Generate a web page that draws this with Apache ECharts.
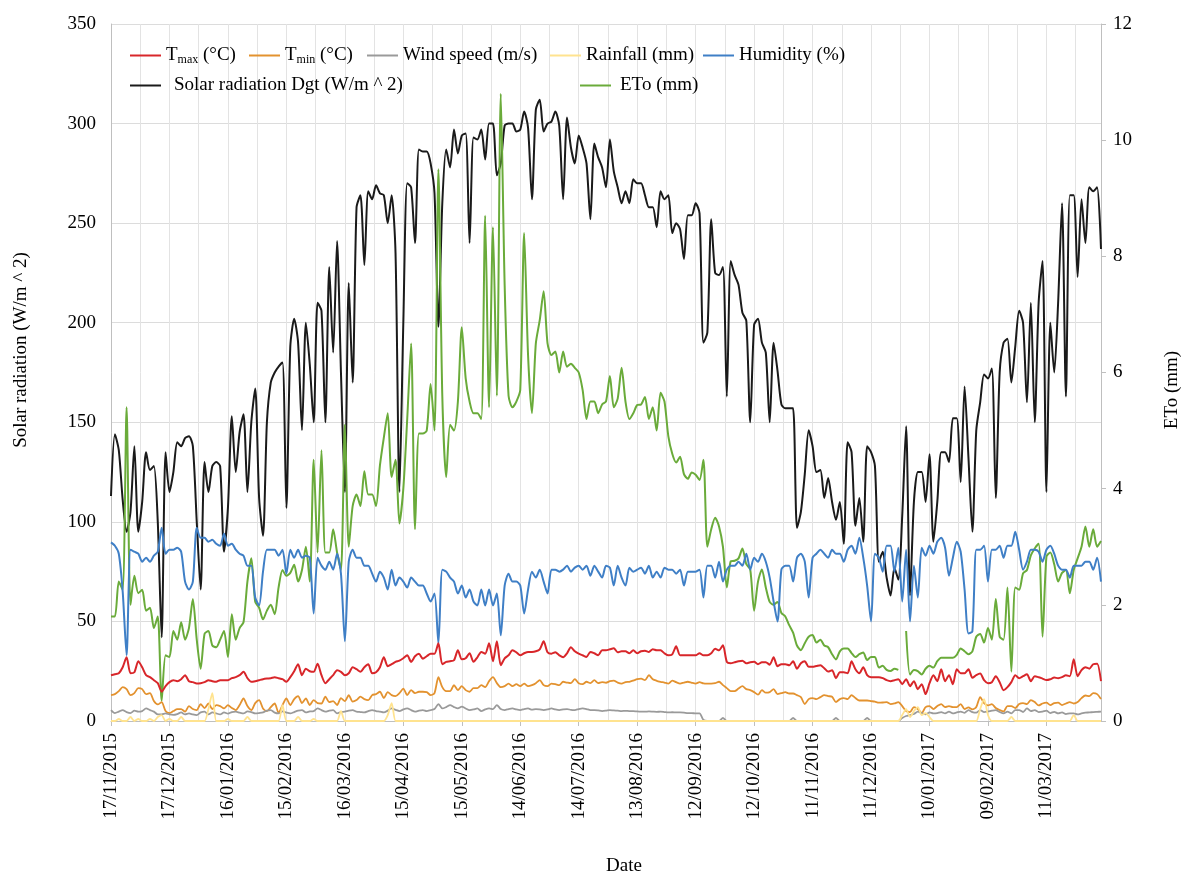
<!DOCTYPE html>
<html>
<head>
<meta charset="utf-8">
<script src="https://cdn.jsdelivr.net/npm/echarts@6/dist/echarts.min.js"></script>
<style>
html,body{margin:0;padding:0;background:#fff;}
#chart{width:1183px;height:873px;}
</style>
</head>
<body>
<div id="chart"></div>
<script>
// Tick labels of the date axis (one every 30 days from 17/11/2015)
const dateLabels = ['17/11/2015','17/12/2015','16/01/2016','15/02/2016','16/03/2016','15/04/2016','15/05/2016','14/06/2016','14/07/2016','13/08/2016','12/09/2016','12/10/2016','11/11/2016','11/12/2016','10/01/2017','09/02/2017','11/03/2017'];
// each series value is one reading every 2 days starting at 17/11/2015
const DAY_STEP = 2;
const LAST_DAY = 508;

const solarRadiation = [
113,144,136,111,95,105,138,95,110,135,
126,128,100,42,135,115,125,140,138,142,
143,138,100,66,130,115,128,130,128,85,
107,153,125,145,154,115,150,167,112,93,
150,170,175,178,180,107,188,202,190,146,
200,179,
150,210,206,150,228,185,241,175,115,220,
170,258,264,229,266,262,269,265,264,250,
264,235,115,200,270,268,240,287,286,286,
280,265,198,260,287,278,297,285,294,295,
240,293,292,297,282,300,300,274,280,299,
300,
300,296,297,306,298,262,307,312,296,300,
301,306,299,262,303,288,280,294,288,280,
252,290,283,278,268,292,276,268,260,266,
260,272,270,270,264,258,258,248,266,262,
264,245,250,247,232,254,254,260,255,190,
195,252,
225,224,228,163,231,224,219,205,201,150,
199,202,190,185,150,190,176,159,157,157,
157,97,105,124,146,138,125,126,112,122,
110,101,110,89,140,135,98,112,90,138,
135,128,80,85,72,63,77,71,103,148,
63,
110,125,125,110,134,90,110,135,135,130,
152,152,120,168,132,95,146,160,174,172,
177,112,175,190,192,170,188,206,200,160,
210,150,210,231,115,200,175,210,260,163,
264,264,223,262,240,268,266,268,237
];

const eto = [
1.8,1.8,2.4,2.26,5.4,2.0,2.5,2.2,2.26,1.9,
1.95,1.6,1.8,0.35,1.13,1.1,1.55,1.4,1.7,1.4,
1.6,2.1,1.4,0.9,1.5,1.55,1.3,1.27,1.4,1.55,
1.1,1.84,1.4,1.6,1.7,2.4,2.8,2.05,1.95,1.75,
1.9,2.0,1.84,2.3,2.6,2.5,2.55,2.69,2.4,2.6,
3.0,2.4,
4.5,2.9,4.66,2.9,2.9,3.3,2.9,2.6,5.1,3.0,
3.7,3.9,3.7,4.3,3.9,3.9,3.7,4.4,4.88,5.3,
4.2,4.5,3.4,4.0,5.2,6.5,3.3,4.95,4.95,5.0,
5.8,5.0,9.5,5.6,4.2,5.1,5.0,5.5,6.78,5.9,
5.5,5.3,5.3,5.2,8.7,5.4,8.5,5.6,10.8,7.5,
5.6,5.4,
5.5,5.7,8.4,6.3,5.3,6.5,6.9,7.4,6.5,6.3,
6.36,6.0,6.36,6.1,6.15,6.08,6.0,5.7,5.2,5.5,
5.5,5.3,5.45,5.5,5.94,5.4,5.55,6.08,5.5,5.2,
5.3,5.44,5.45,5.58,5.2,5.4,5.0,5.65,5.5,4.9,
4.6,4.45,4.55,4.25,4.17,4.28,4.24,4.15,4.5,3.0,
3.3,
3.5,3.35,3.0,2.3,2.75,2.76,2.8,2.97,2.7,2.61,
1.9,2.4,2.61,2.3,2.05,2.0,2.05,1.86,1.8,1.65,
1.52,1.3,1.22,1.34,1.45,1.48,1.35,1.4,1.3,1.27,
1.15,1.06,1.2,1.25,1.25,1.17,1.1,1.15,1.18,1.05,
1.1,1.1,0.92,0.95,0.88,0.86,0.9,0.88,null,
1.55,0.8,0.88,0.86,0.8,0.9,0.95,0.92,1.03,1.09,
1.09,1.09,1.09,1.14,1.25,1.2,1.15,1.2,1.45,1.5,
1.35,1.6,1.4,2.1,1.45,1.4,2.3,0.85,2.3,2.26,
2.54,2.6,2.85,2.97,3.05,1.45,2.83,2.9,2.7,2.4,
2.55,2.6,2.2,2.6,2.8,3.0,3.35,3.0,3.3,3.0,
3.1
];

const humidity = [
89.7,88,84,65,33,86,85,84,80,82,
80,83,85,97,84,86,86,87,85,70,
66,70,97,92,92,90,91,89,88,94,
88,89,86,84,83,78,78,62,58,75,
86,86,86,83,86,74,86,82,86,82,
83,82,
54,82,78,76,80,76,84,74,40,80,
86,82,82,78,78,74,70,75,72,66,
76,68,72,70,67,72,70,68,68,64,
60,64,39,76,75,72,70,64,68,62,
66,60,58,66,58,66,58,64,43,68,
74,70,
70,68,54,66,75,72,76,70,64,76,
76,75,76,78,75,77,78,76,78,73,
78,75,72,78,77,68,78,72,68,77,
75,76,77,74,78,72,75,72,77,76,
76,74,76,68,75,75,75,76,62,78,
78,72,80,70,76,78,78,80,78,84,
76,82,80,84,80,72,60,50,76,78,
78,70,82,84,80,62,82,84,86,84,
82,86,84,84,80,86,88,84,92,82,
68,50,84,82,75,88,88,75,87,60,
86,50,78,62,87,83,88,84,90,92,
87,73,82,90,85,66,44,45,86,86,
88,70,86,86,88,82,88,88,95,86,
76,80,86,86,85,80,86,88,84,78,
76,76,72,78,78,78,80,80,76,82,
70
];

const tmax = [
23,23.5,24,27,32,24,24.5,30,27,23,
22,20.5,19,14.7,17.5,19.5,20.5,20,21,23,
20,19.5,18.8,19,19.5,20.5,20,19.7,20.5,20.5,
20.5,21.5,22,23,24.7,21.5,19.7,20,20.5,21,
21.3,21.5,22,21.5,21,19.7,22,25,28.5,23,
26.3,25,24.7,28.8,23,19,21,23,25.5,24.7,
23,24,27,26,24.7,27,28.5,24,24.5,27,
32,27.5,28.5,29.7,30.3,31.5,33,29.7,32.5,33.8,
31.3,32.5,33.8,33.8,39,28.5,29.7,30,30.5,35.5,
31,31.5,34,29.7,32,34.7,33.8,39,30,40,
28,31.5,33,35.5,34.5,33,34,34.7,34.7,35,
36,40,34.5,33.8,34.5,33,32,34,37,35,
33.8,33,32.2,34.7,34,33,
35.5,35.5,36,36.5,34.5,35,35,34,35.5,34,
35,35.3,34.7,36,35.5,35.5,34,33,33.5,37.5,
33,33,33,33,33,34,33,33,34,36.3,
35.5,38,29.7,29,29.5,30,30.3,29,29.5,29.7,
28.5,29.5,29.5,28.3,32,27.5,28.5,28.5,28,30,
26.3,29,30,27.2,27.2,27.6,28,26.5,24.8,25.5,
21.5,24.5,24.5,24,30,26,24,27,23,22,
22,22,21.5,20.5,20,20.5,21,18.5,21,17.5,
20,16,18.5,13.5,19,23,20,26,20,23,
18.5,26,24,24,26,21.7,23,23.8,20.5,19,
19.5,22.5,19.5,15.5,17,19.5,23,21.5,22.5,23.5,
20,22.5,22,21.3,20.6,21,21.8,21.5,22,23,
22.5,31,22.5,25.5,27,26.3,28.5,28.8,20
];

const tmin = [
13,13.5,15,17,16,13,14,16.5,16,13.5,
14,10,8.3,9.5,5,4,5,6,6,4.7,
7.5,6,5.5,8.5,6.5,8.8,6,8,7.5,6.3,
8,6.5,5.5,8,11.3,7.5,5.5,9,10.5,6.3,
5,7,8.8,4,8,11.3,8,11,12.5,9,
11.3,8,10.5,9,8.8,12.2,9.5,10,8,11.5,
10,13,9.7,10.5,12.2,11,10.5,13,13.5,14.7,
11.5,14.5,13,12.5,14,16.3,13,15.5,14,14.7,
14.7,14.5,13,14,22,17,15,15,18,15.5,
17.5,15.5,14.7,16.5,16.5,18,17,20,22,19,
17,17.5,18.8,17.5,18.5,17.5,18.8,17.5,18,19,
20.5,18,17.5,18.8,18.5,18,19.7,19.3,19,21,
19,18.5,19.7,19,20.5,19,
19.5,19.2,20,20.3,19.3,18.8,19.5,19.7,20.3,21,
21.3,20.5,23,21,20.2,19.7,19.3,18.8,20.3,19.5,
18.8,19.3,19.7,19.2,18.8,19.5,18.9,18.8,18.8,19,
19.7,18,16.5,15,15,16.3,17.5,16,15.5,14.5,
13.2,15.5,14.2,14.5,16,13.5,14,14.5,13.8,13.8,
13,12,8.5,11,11.5,11,12,13,12.5,12.2,
9.5,11,11.5,11,13,11.5,10.3,10.3,10.3,10,
9.7,9.2,9.3,9.5,8.5,8.8,9.5,7.5,5,4.5,
7,6,4,7,7.5,6,7.5,8.5,7,7.5,
7,7,8.5,6,6.8,5.8,7,12,9,7.8,
8.5,6.5,5.5,4.8,7.5,7.5,6.5,8.5,9,8.5,
10.5,9.5,7.8,8.8,9.2,8,9,9.2,8,8.8,
9.5,8.8,9.5,11.5,12.8,12.5,14,13.5,11
];

const windSpeed = [
5.5,4,4.7,5.5,4.5,4,5.2,4.7,5,6.3,
5.5,4.7,3.3,3.3,3.8,3.3,3.1,3.5,4.3,3.3,
3.8,3.3,3,4.3,4.7,3.3,4.3,3.8,3.3,4.3,
3.7,4.5,4.7,4.2,3.8,4.8,4.5,3.8,4,4.3,
5.2,5.5,4.2,3.8,4.8,4.2,3.8,4.5,5.2,5.5,
4.3,4.8,5,6.3,5.5,4.7,5.2,5.5,3.8,4.5,
4.7,5.2,5.5,4.7,4.5,4.3,5,5.5,5,4.7,
4.3,5.2,6.3,5.6,5,5.8,6.3,5.5,4.7,5.2,
5.5,5,5.5,6,8.5,6.3,7,8,7,6.3,
7.2,6.3,5.5,5.8,6.3,5,5.8,6.3,6,8,
6,5.5,6,6.3,5.8,5.5,6,6.3,5.7,6,
5.8,5.5,5.8,6.3,5.8,5.5,5.8,6,5.6,5.5,
6,6.3,6,5.5,5.5,5.3,
5,5.2,5.5,5.3,5.2,5,5.1,5,5,4.8,
4.7,4.7,4.8,4.7,4.6,4.7,4.5,4.3,4.4,4.3,
4.3,4.2,4,4,3.8,3.8,
0.5,
0,0,0,0,1.5,0,0,0,0,0,
0,0,0,0,0,0,0,0,0,0,
0,0,1.5,0,0,0,0,0,0,0,
0,0,0,1.5,0,0,0,0,0,0,
0,1.5,0,0,0,0,0,0,0,0,
1.5,2.5,3,3.5,4.7,4,3.3,4.3,3.8,4,
4.5,3.8,4.7,3.8,4.3,4.7,4.1,5.5,4.5,4.2,
5.5,4.5,4.8,5.2,5.5,4.5,3.8,4.7,3.8,5.5,
5.5,4.5,6.3,5,5.5,4.5,4.7,5.2,4,4.6,
3.8,4.3,3.5,3.8,3.8,3.3,3.8,4.2,4.3,4.5,
4.6,4.7
];

const rainfall = [
0,0,1,0,0,2,0,1,0,0,
1,0,2,3,0,1,0,0,2,0,
0,0,0,0,0,6,14,0,0,0,
1,0,0,0,0,2,0,0,0,0,
0,0,0,0,8,0,0,0,2,0,
0,0,1,0,0,0,0,0,0,5,
0,0,0,0,0,0,0,0,0,0,
0,3,9,0,0,0,0,0,0,0,
0,0,0,0,0,0,0,0,0,0,
0,0,0,0,0,0,0,0,0,0,
0,0,0,0,0,0,0,0,0,0,
0,0,0,0,0,0,0,0,0,0,
0,0,0,0,0,0,0,0,0,0,
0,0,0,0,0,0,0,0,0,0,
0,0,0,0,0,0,0,0,0,0,
0,0,0,0,0,0,0,0,0,0,
0,0,0,0,0,0,0,0,0,0,
0,0,0,0,0,0,0,0,0,0,
0,0,0,0,0,0,0,0,0,0,
0,0,0,0,0,0,0,0,0,0,
0,0,0,3,6,2,5,7,3,4,
2,0,0,0,0,0,0,0,0,0,
0,0,0,6,11,3,0,0,0,0,
0,2,0,0,0,0,0,0,0,0,
0,0,0,0,0,0,0,3,0,0,
0,0,0,0,0
];

const SERIF = '"Liberation Serif", "Times New Roman", serif';
const FS = 19;

function pairs(arr) { return arr.map(function (v, i) { return [i * DAY_STEP, v]; }); }

const chart = echarts.init(document.getElementById('chart'), null, {renderer: 'canvas'});

function lineSeries(name, arr, color, yAxisIndex, width) {
  return {
    name: name, type: 'line', data: pairs(arr), yAxisIndex: yAxisIndex,
    symbol: 'none', showSymbol: false, smooth: 0.25, connectNulls: false,
    lineStyle: {color: color, width: width || 2},
    itemStyle: {color: color},
    emphasis: {disabled: true},
    animation: false
  };
}

const names = {
  tmax: 'Tmax (°C)', tmin: 'Tmin (°C)', wind: 'Wind speed (m/s)', rain: 'Rainfall (mm)',
  hum: 'Humidity (%)', solar: 'Solar radiation Dgt (W/m ^ 2)', eto: 'ETo (mm)'
};

const colors = {
  tmax: '#d8262a', tmin: '#e3922f', wind: '#9a9a9a', rain: '#ffe38f',
  hum: '#3f7fc6', solar: '#1a1a1a', eto: '#6aab3a'
};

const richText = {
  a: {fontFamily: SERIF, fontSize: FS, color: '#000'},
  s: {fontFamily: SERIF, fontSize: 12, color: '#000', padding: [8, 0, 0, 0]}
};

function legendAt(name, left, top, pad) {
  return {
    data: [name], left: left, top: top, icon: 'rect', itemWidth: 31, itemHeight: 2,
    itemGap: 0, padding: 0, selectedMode: false,
    textStyle: {fontFamily: SERIF, fontSize: FS, color: '#000', padding: [0, 0, 0, pad || 0], rich: richText},
    formatter: function (n) {
      if (n === names.tmax) return '{a|T}{s|max}{a| (°C)}';
      if (n === names.tmin) return '{a|T}{s|min}{a| (°C)}';
      return n;
    }
  };
}

const option = {
  backgroundColor: '#ffffff',
  animation: false,
  grid: {left: 111, right: 82, top: 24, bottom: 152, containLabel: false},
  legend: [
    legendAt(names.tmax, 130, 46, 0),
    legendAt(names.tmin, 249, 46, 0),
    legendAt(names.wind, 367, 46, 0),
    legendAt(names.rain, 550, 46, 0),
    legendAt(names.hum, 703, 46, 0),
    legendAt(names.solar, 130, 76, 8),
    legendAt(names.eto, 580, 76, 4)
  ],
  xAxis: {
    type: 'value', min: 0, max: LAST_DAY, interval: 30,
    axisLine: {show: true, lineStyle: {color: '#bfbfbf', width: 1}},
    axisTick: {show: true, length: 5, lineStyle: {color: '#bfbfbf'}},
    axisLabel: {
      rotate: 90, margin: 12, fontFamily: SERIF, fontSize: FS, color: '#000',
      showMaxLabel: false,
      formatter: function (v) { return (v % 30 === 0 && dateLabels[v / 30]) ? dateLabels[v / 30] : ''; }
    },
    splitLine: {show: true, lineStyle: {color: '#e3e3e3', width: 1}},
    minorTick: {show: false, splitNumber: 2},
    minorSplitLine: {show: true, lineStyle: {color: '#e3e3e3', width: 1}}
  },
  yAxis: [
    {
      type: 'value', min: 0, max: 350, interval: 50, position: 'left',
      axisLine: {show: true, lineStyle: {color: '#bfbfbf'}},
      axisTick: {show: false},
      axisLabel: {fontFamily: SERIF, fontSize: FS, color: '#000', margin: 15},
      splitLine: {show: true, lineStyle: {color: '#dcdcdc', width: 1}}
    },
    {
      type: 'value', min: 0, max: 12, interval: 2, position: 'right',
      axisLine: {show: true, lineStyle: {color: '#bfbfbf'}},
      axisTick: {show: true, length: 5, lineStyle: {color: '#bfbfbf'}},
      axisLabel: {fontFamily: SERIF, fontSize: FS, color: '#000', margin: 12},
      splitLine: {show: false}
    }
  ],
  graphic: [
    {type: 'text', x: 21, y: 350, rotation: Math.PI / 2,
     style: {text: 'Solar radiation (W/m ^ 2)', font: FS + 'px ' + SERIF, fill: '#000', align: 'center', verticalAlign: 'middle', textAlign: 'center', textVerticalAlign: 'middle'}},
    {type: 'text', x: 1172, y: 390, rotation: Math.PI / 2,
     style: {text: 'ETo (mm)', font: FS + 'px ' + SERIF, fill: '#000', align: 'center', verticalAlign: 'middle', textAlign: 'center', textVerticalAlign: 'middle'}},
    {type: 'text', x: 624, y: 866,
     style: {text: 'Date', font: FS + 'px ' + SERIF, fill: '#000', align: 'center', verticalAlign: 'middle', textAlign: 'center', textVerticalAlign: 'middle'}}
  ],
  series: [
    lineSeries(names.solar, solarRadiation, colors.solar, 0, 2),
    lineSeries(names.eto, eto, colors.eto, 1, 2),
    lineSeries(names.hum, humidity, colors.hum, 0, 2),
    lineSeries(names.tmax, tmax, colors.tmax, 0, 2),
    lineSeries(names.tmin, tmin, colors.tmin, 0, 1.8),
    lineSeries(names.wind, windSpeed, colors.wind, 0, 1.8),
    lineSeries(names.rain, rainfall, colors.rain, 0, 1.8)
  ]
};

chart.setOption(option);
</script>
</body>
</html>
